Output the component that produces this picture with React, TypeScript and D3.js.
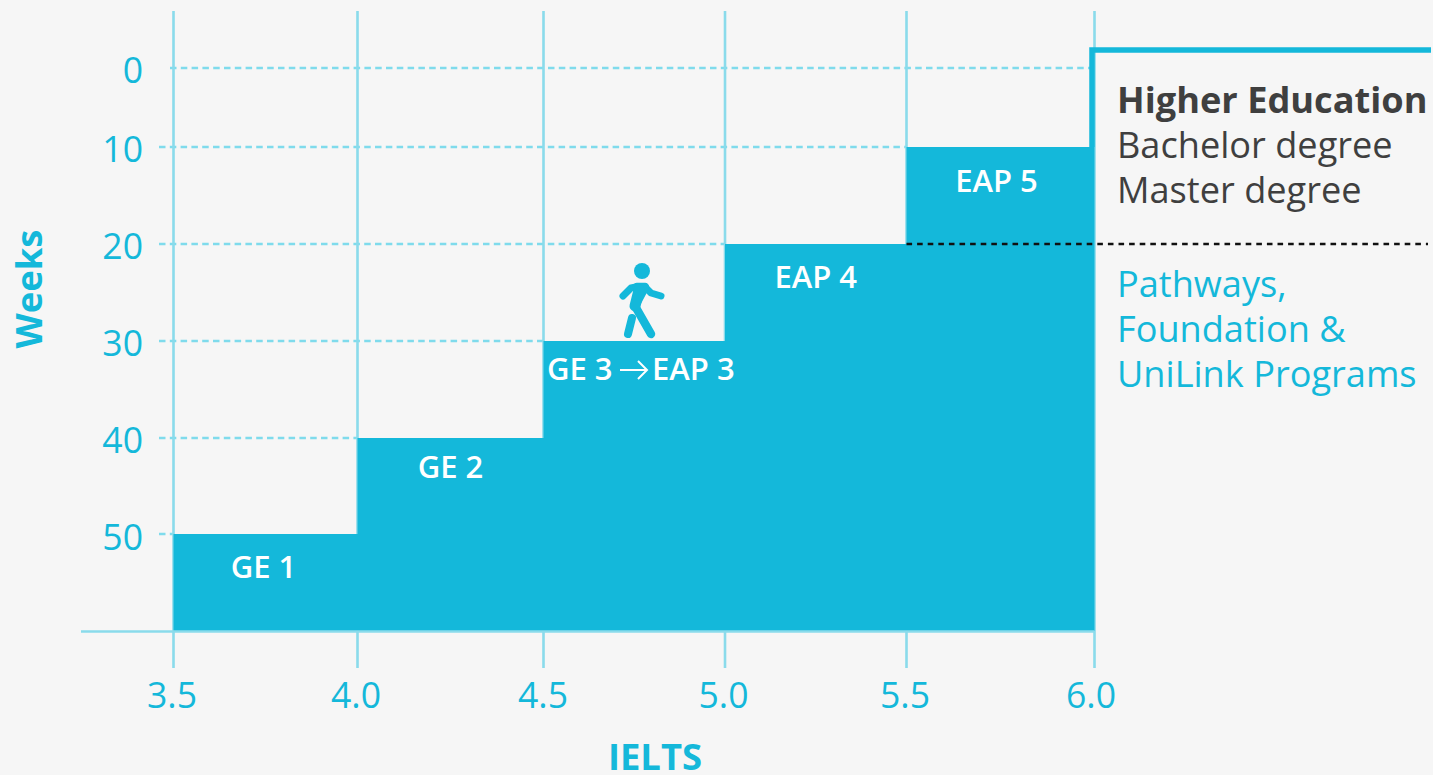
import React from "react";
import * as d3 from "d3";

const ieltsTicks = [3.5, 4.0, 4.5, 5.0, 5.5, 6.0];
const weekTicks = [0, 10, 20, 30, 40, 50];
const stepStart = [3.5, 4.0, 4.5, 5.0, 5.5];
const stepEnd = [4.0, 4.5, 5.0, 5.5, 6.0];
const stepWeeks = [50, 40, 30, 20, 10];
const stepLabels = ["GE 1", "GE 2", "", "EAP 4", "EAP 5"];
const higherLines = ["Bachelor degree", "Master degree"];
const pathwayLines = ["Pathways,", "Foundation &", "UniLink Programs"];

const FONT = "'Open Sans', sans-serif";
const BLUE = "#14b8da";
const LIGHT = "#8adbeb";
const DASH = "#7fdbec";
const DARK = "#3f3f3f";

const x = d3.scaleLinear().domain([3.5, 4, 4.5, 5, 5.5, 6]).range([173.5, 357.5, 543.5, 725, 906.5, 1094.5]);
const y = d3.scaleLinear().domain([0, 10, 20, 30, 40, 50, 60]).range([68, 147, 244, 341, 438, 534, 631]);

const areaPoints: [number, number][] = [];
stepStart.forEach((s, i) => {
  areaPoints.push([s, stepWeeks[i]], [stepEnd[i], stepWeeks[i]]);
});
const areaGen = d3
  .area<[number, number]>()
  .x((d) => x(d[0]))
  .y0(y(60))
  .y1((d) => y(d[1]));

const dashStart = (w: number) => (w === 0 ? 170 : 159);
const labelDx = (i: number) => (i === 0 ? -2 : i === 4 ? -4 : 0);
const labelDy = (i: number) => (i === 1 ? 40 : i === 4 ? 45 : 44);
const xTickDx = (t: number) => (t === 6 ? -3.5 : t === 4.5 ? -0.5 : -1.5);
const yTickDy = (w: number) => (w === 50 ? 15.5 : 14.5);

export default function App() {
  const dashEnd = (w: number) => {
    if (w === 0) return x(6);
    const i = stepWeeks.indexOf(w);
    return x(stepStart[i]);
  };
  return (
    <svg
      width={1433}
      height={775}
      viewBox="0 0 1433 775"
      style={{ position: "absolute", left: 0, top: 0, background: "#f6f6f6" }}
      fontFamily={FONT}
    >
      {/* dashed week guides */}
      {weekTicks.map((w) => (
        <line
          key={w}
          x1={dashStart(w)}
          x2={dashEnd(w)}
          y1={y(w)}
          y2={y(w)}
          stroke={DASH}
          strokeWidth={2.7}
          strokeDasharray="6.5 4.3"
        />
      ))}
      {/* vertical ticks */}
      {ieltsTicks.map((t) => (
        <line key={t} x1={x(t)} x2={x(t)} y1={11} y2={668} stroke={LIGHT} strokeWidth={2.6} />
      ))}
      {/* stair area */}
      <path d={areaGen(areaPoints) ?? ""} fill={BLUE} />
      {/* baseline */}
      <line x1={81} x2={x(6)} y1={y(60) + 0.5} y2={y(60) + 0.5} stroke={LIGHT} strokeWidth={2.6} />

      {/* higher education bracket */}
      <path d={`M${x(6) - 2.5},${y(10)}V50H1431`} fill="none" stroke={BLUE} strokeWidth={5.5} />
      {/* divider */}
      <line x1={x(5.5)} x2={1428} y1={y(20)} y2={y(20)} stroke="#111" strokeWidth={2.4} strokeDasharray="5.6 5" />

      {/* step labels */}
      {stepLabels.map((l, i) =>
        l ? (
          <text
            key={l}
            x={(x(stepStart[i]) + x(stepEnd[i])) / 2 + labelDx(i)}
            y={y(stepWeeks[i]) + labelDy(i)}
            textAnchor="middle"
            fill="#fff"
            fontSize={31}
            fontWeight={600}
          >
            {l}
          </text>
        ) : null
      )}
      <text x={547} y={380} fill="#fff" fontSize={31} fontWeight={600}>
        GE 3
      </text>
      <path d="M620,370H647M638,361L647,370L638,379" fill="none" stroke="#fff" strokeWidth={2} />
      <text x={652} y={380} fill="#fff" fontSize={31} fontWeight={600}>
        EAP 3
      </text>

      {/* walking person */}
      <g
        transform={`translate(${x(4.5) + 98.5},${y(30) - 70})`}
        fill="none"
        stroke={BLUE}
        strokeLinecap="round"
        strokeLinejoin="round"
      >
        <circle cx={0} cy={0} r={8} fill={BLUE} stroke="none" />
        <path d="M-6,16 L-11,17 L-19,25" strokeWidth={7} />
        <path d="M3,16 L9,22 L19,25" strokeWidth={7} />
        <path d="M-5,16 L3,16 L-7,35 L9,63" strokeWidth={8.5} />
        <path d="M-3,19 L-7,35" strokeWidth={11} />
        <path d="M-10,47 L-14,63" strokeWidth={8} />
      </g>

      {/* y ticks */}
      {weekTicks.map((w) => (
        <text key={w} x={143} y={y(w) + yTickDy(w)} textAnchor="end" fill={BLUE} fontSize={35.6}>
          {w}
        </text>
      ))}
      {/* x ticks */}
      {ieltsTicks.map((t) => (
        <text key={t} x={x(t) + xTickDx(t)} y={708} textAnchor="middle" fill={BLUE} fontSize={35.6}>
          {t.toFixed(1)}
        </text>
      ))}
      {/* axis titles */}
      <text
        transform="translate(42,289) rotate(-90)"
        textAnchor="middle"
        fill={BLUE}
        fontSize={36.4}
        fontWeight={700}
      >
        Weeks
      </text>
      <text x={655} y={770} textAnchor="middle" fill={BLUE} fontSize={36.4} fontWeight={700}>
        IELTS
      </text>

      {/* right panel */}
      <text x={1117} y={113} fill={DARK} fontSize={36.2} fontWeight={700}>
        Higher Education
      </text>
      {higherLines.map((l, i) => (
        <text key={l} x={1117} y={158 + i * 45} fill={DARK} fontSize={36.15}>
          {l}
        </text>
      ))}
      {pathwayLines.map((l, i) => (
        <text key={l} x={1117} y={297 + i * 45} fill={BLUE} fontSize={36.15}>
          {l}
        </text>
      ))}
    </svg>
  );
}
